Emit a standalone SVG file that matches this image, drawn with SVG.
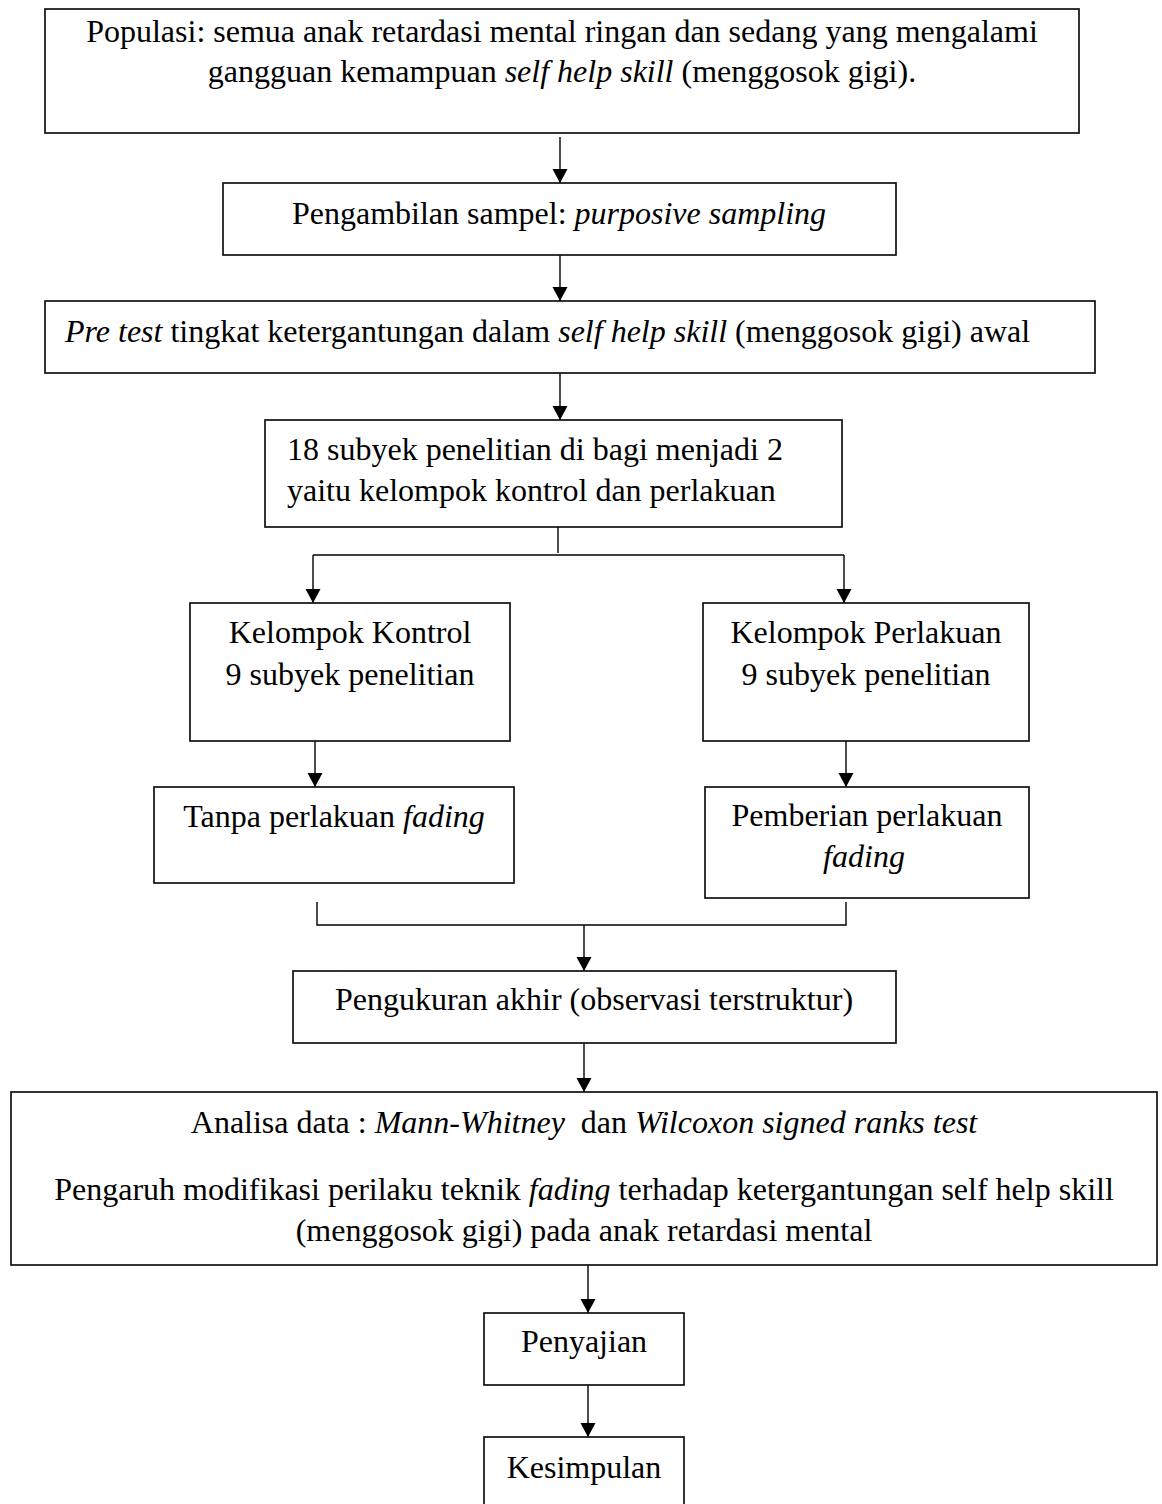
<svg xmlns="http://www.w3.org/2000/svg" width="1162" height="1504" viewBox="0 0 1162 1504">
<style>
.box{fill:#fff;stroke:#111;stroke-width:1.7}
.t{font-family:"Liberation Serif","Times New Roman",serif;font-size:32px;fill:#000}
.c{text-anchor:middle}
.i{font-style:italic}
.ln{fill:none;stroke:#000;stroke-width:1.4}
</style>
<defs>
<marker id="ah" markerUnits="userSpaceOnUse" markerWidth="16" markerHeight="16" refX="14" refY="7.5" orient="auto">
<path d="M0,0 L14,7.5 L0,15 z" fill="#000"/>
</marker>
</defs>
<rect width="1162" height="1504" fill="#fff"/>
<g id="connectors">
<path class="ln" d="M560,137 V183" marker-end="url(#ah)"/>
<path class="ln" d="M560,255 V301" marker-end="url(#ah)"/>
<path class="ln" d="M560,373 V420" marker-end="url(#ah)"/>
<path class="ln" d="M558,527 V553"/>
<path class="ln" d="M313,555 H844"/>
<path class="ln" d="M313,555 V603" marker-end="url(#ah)"/>
<path class="ln" d="M844,555 V603" marker-end="url(#ah)"/>
<path class="ln" d="M315,741 V787" marker-end="url(#ah)"/>
<path class="ln" d="M846,741 V787" marker-end="url(#ah)"/>
<path class="ln" d="M317,902 V925 H846 V902"/>
<path class="ln" d="M584,925 V971" marker-end="url(#ah)"/>
<path class="ln" d="M584,1043 V1092" marker-end="url(#ah)"/>
<path class="ln" d="M588,1265 V1313" marker-end="url(#ah)"/>
<path class="ln" d="M588,1385 V1437" marker-end="url(#ah)"/>
</g>
<g id="populasi">
<rect class="box" x="45" y="9" width="1034" height="124"/>
<text class="t c" x="562" y="42">Populasi: semua anak retardasi mental ringan dan sedang yang mengalami</text>
<text class="t c" x="562" y="82">gangguan kemampuan <tspan class="i">self help skill</tspan> (menggosok gigi).</text>
</g>
<g id="sampel">
<rect class="box" x="223" y="183" width="673" height="72"/>
<text class="t c" x="559" y="224">Pengambilan sampel: <tspan class="i">purposive sampling</tspan></text>
</g>
<g id="pretest">
<rect class="box" x="45" y="301" width="1050" height="72"/>
<text class="t" x="65" y="342"><tspan class="i">Pre test</tspan> tingkat ketergantungan dalam <tspan class="i">self help skill</tspan> (menggosok gigi) awal</text>
</g>
<g id="subyek">
<rect class="box" x="265" y="420" width="577" height="107"/>
<text class="t" x="287" y="460">18 subyek penelitian di bagi menjadi 2</text>
<text class="t" x="287" y="501">yaitu kelompok kontrol dan perlakuan</text>
</g>
<g id="kontrol">
<rect class="box" x="190" y="603" width="320" height="138"/>
<text class="t c" x="350" y="643">Kelompok Kontrol</text>
<text class="t c" x="350" y="685">9 subyek penelitian</text>
</g>
<g id="perlakuan">
<rect class="box" x="703" y="603" width="326" height="138"/>
<text class="t c" x="866" y="643">Kelompok Perlakuan</text>
<text class="t c" x="866" y="685">9 subyek penelitian</text>
</g>
<g id="tanpa">
<rect class="box" x="154" y="787" width="360" height="96"/>
<text class="t c" x="334" y="827">Tanpa perlakuan <tspan class="i">fading</tspan></text>
</g>
<g id="pemberian">
<rect class="box" x="705" y="787" width="324" height="111"/>
<text class="t c" x="867" y="826">Pemberian perlakuan</text>
<text class="t c i" x="864" y="867">fading</text>
</g>
<g id="pengukuran">
<rect class="box" x="293" y="971" width="603" height="72"/>
<text class="t c" x="594" y="1010">Pengukuran akhir (observasi terstruktur)</text>
</g>
<g id="analisa">
<rect class="box" x="11" y="1092" width="1146" height="173"/>
<text class="t c" x="584" y="1133" xml:space="preserve">Analisa data : <tspan class="i">Mann-Whitney</tspan>  dan <tspan class="i">Wilcoxon signed ranks test</tspan></text>
<text class="t c" x="584" y="1200">Pengaruh modifikasi perilaku teknik <tspan class="i">fading</tspan> terhadap ketergantungan self help skill</text>
<text class="t c" x="584" y="1241">(menggosok gigi) pada anak retardasi mental</text>
</g>
<g id="penyajian">
<rect class="box" x="484" y="1313" width="200" height="72"/>
<text class="t c" x="584" y="1352">Penyajian</text>
</g>
<g id="kesimpulan">
<rect class="box" x="484" y="1437" width="200" height="90"/>
<text class="t c" x="584" y="1478">Kesimpulan</text>
</g>
</svg>
